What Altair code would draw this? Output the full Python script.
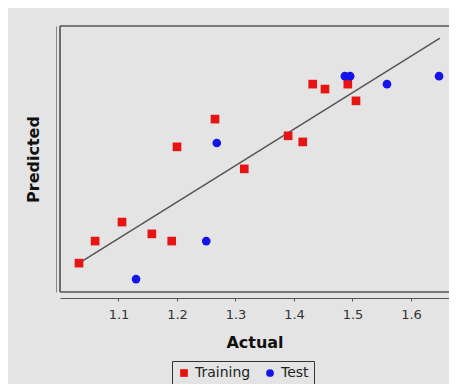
import altair as alt
import pandas as pd

# Data
train_x = [1.0325, 1.060, 1.106, 1.157, 1.191, 1.200, 1.265, 1.315, 1.390, 1.415, 1.432, 1.453, 1.492, 1.506]
train_y = [1.076, 1.134, 1.184, 1.153, 1.134, 1.382, 1.455, 1.324, 1.411, 1.395, 1.547, 1.534, 1.547, 1.503]
test_x = [1.130, 1.250, 1.268, 1.487, 1.496, 1.559, 1.648]
test_y = [1.034, 1.134, 1.392, 1.568, 1.568, 1.547, 1.568]
line_x = [1.0325, 1.6496]
line_y = [1.076, 1.668]
x_ticks = [1.1, 1.2, 1.3, 1.4, 1.5, 1.6]
sets = ["Training", "Test"]
set_colors = ["#e81414", "#1414e8"]
set_shapes = ["square", "circle"]

pts = pd.DataFrame({
    "Actual": train_x + test_x,
    "Predicted": train_y + test_y,
    "Set": [sets[0]] * len(train_x) + [sets[1]] * len(test_x),
})
line_df = pd.DataFrame({"Actual": line_x, "Predicted": line_y})

W, H = 389, 266
FONT = "DejaVu Sans"

xscale = alt.Scale(domain=[1.0, 1.665], nice=False, zero=False)
yscale = alt.Scale(domain=[1.0, 1.7], nice=False, zero=False)

xaxis = alt.Axis(values=x_ticks, format=".1f", offset=6, grid=False,
                 domainColor="#555", tickColor="#555", tickSize=3,
                 labelFontSize=13, labelColor="#333", labelFont=FONT, labelPadding=7,
                 title="Actual", titleFont=FONT, titleFontSize=16, titleFontWeight="bold",
                 titleColor="#111", titlePadding=13)
yaxis = alt.Axis(labels=False, ticks=False, offset=4, grid=False, domainColor="#888",
                 title="Predicted", titleFont=FONT, titleFontSize=16, titleFontWeight="bold",
                 titleColor="#111", titlePadding=15)

base_line = alt.Chart(line_df).mark_line(color="#555", strokeWidth=1.5).encode(
    x=alt.X("Actual:Q", scale=xscale, axis=xaxis),
    y=alt.Y("Predicted:Q", scale=yscale, axis=yaxis),
)

points = alt.Chart(pts).mark_point(filled=True, opacity=1, size=75).encode(
    x=alt.X("Actual:Q", scale=xscale),
    y=alt.Y("Predicted:Q", scale=yscale),
    color=alt.Color("Set:N", scale=alt.Scale(domain=sets, range=set_colors),
                    legend=alt.Legend(title=None, orient="none", legendX=112, legendY=335,
                                      direction="horizontal", strokeColor="#333", padding=5,
                                      labelFontSize=14, labelFont=FONT, labelColor="#222",
                                      symbolSize=60, columnPadding=12, symbolStrokeWidth=0)),
    shape=alt.Shape("Set:N", scale=alt.Scale(domain=sets, range=set_shapes), legend=None),
)

frame_col = "#555"
top_rule = alt.Chart(line_df).mark_rule(color=frame_col, strokeWidth=1.2).encode(
    x=alt.value(0), x2=alt.value(W), y=alt.value(0))
left_rule = alt.Chart(line_df).mark_rule(color=frame_col, strokeWidth=1.2).encode(
    x=alt.value(0), y=alt.value(0), y2=alt.value(H))
bottom_rule = alt.Chart(line_df).mark_rule(color=frame_col, strokeWidth=1.2).encode(
    x=alt.value(0), x2=alt.value(W), y=alt.value(H))

chart = alt.layer(base_line, top_rule, left_rule, bottom_rule, points).properties(
    width=W, height=H,
    padding={"left": 52, "top": 18, "right": 0, "bottom": 92},
    autosize=alt.AutoSizeParams(type="none"),
).configure(background="#e4e4e4").configure_view(stroke=None)

chart.save("out.html", embed_options={"renderer": "svg", "actions": False})
